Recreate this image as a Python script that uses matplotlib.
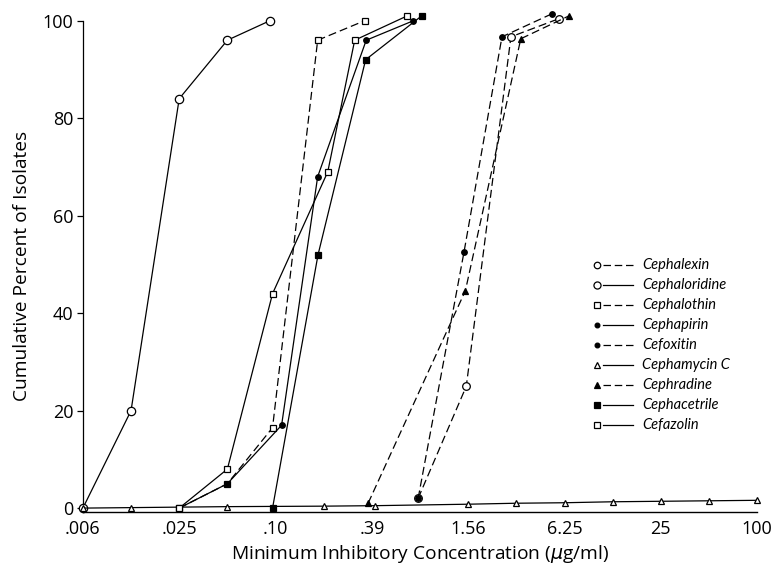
import matplotlib
matplotlib.use("Agg")
import matplotlib.pyplot as plt
from matplotlib.ticker import FixedLocator, NullLocator

plt.rcParams['font.family'] = ['Open Sans', 'DejaVu Sans']

# MIC values (ug/ml) and cumulative percent
names = ["Cephalexin", "Cephaloridine", "Cephalothin", "Cephapirin", "Cefoxitin",
         "Cephamycin C", "Cephradine", "Cephacetrile", "Cefazolin"]

cephalexin_x = [0.76, 1.52, 2.89, 5.75]
cephalexin_y = [2, 25, 96.7, 100.4]

cephaloridine_x = [0.0061, 0.0122, 0.0244, 0.0488, 0.09]
cephaloridine_y = [0, 20, 84, 96, 100]

cephalothin_x = [0.0244, 0.0488, 0.0935, 0.179, 0.352]
cephalothin_y = [0, 5, 16.5, 96, 100]

cephapirin_x = [0.0244, 0.0488, 0.1065, 0.179, 0.36, 0.71]
cephapirin_y = [0, 5, 17, 68, 96, 100]

cefoxitin_x = [0.76, 1.47, 2.54, 5.2]
cefoxitin_y = [2, 52.5, 96.7, 101.4]

cephamycin_x = [0.0061, 0.0122, 0.0488, 0.195, 0.41, 1.56, 3.12, 6.25, 12.5, 25, 50, 100]
cephamycin_y = [0, 0.1, 0.3, 0.4, 0.5, 0.8, 1.0, 1.1, 1.3, 1.4, 1.5, 1.6]

cephradine_x = [0.37, 1.50, 3.33, 6.67]
cephradine_y = [1, 44.6, 96.3, 101]

cephacetrile_x = [0.0935, 0.18, 0.357, 0.80]
cephacetrile_y = [0, 52, 92, 101]

cefazolin_x = [0.0244, 0.0488, 0.0935, 0.207, 0.305, 0.65]
cefazolin_y = [0, 8, 44, 69, 96, 101]

xs = [cephalexin_x, cephaloridine_x, cephalothin_x, cephapirin_x, cefoxitin_x,
      cephamycin_x, cephradine_x, cephacetrile_x, cefazolin_x]
ys = [cephalexin_y, cephaloridine_y, cephalothin_y, cephapirin_y, cefoxitin_y,
      cephamycin_y, cephradine_y, cephacetrile_y, cefazolin_y]

tick_vals = [100 / 2**14, 0.0244, 0.0977, 0.390625, 1.5625, 6.25, 25, 100]
tick_labels = [".006", ".025", ".10", ".39", "1.56", "6.25", "25", "100"]

# (marker, filled, dashed, markersize)
styles = [("o", False, True, 5.5), ("o", False, False, 6), ("s", False, True, 4.5),
          ("o", True, False, 4), ("o", True, True, 4), ("^", False, False, 5),
          ("^", True, True, 4.5), ("s", True, False, 4.5), ("s", False, False, 4.5)]

fig = plt.figure(figsize=(7.75, 5.66), dpi=100)
ax = fig.add_axes([0.107, 0.0954, 0.870, 0.868])

DASH = (6.4, 3.2)
for x, y, (m, filled, dashed, ms) in zip(xs, ys, styles):
    ln, = ax.plot(x, y, color="black", lw=0.9, marker=m, ms=ms,
                  mfc="black" if filled else "white", mec="black", mew=0.9,
                  clip_on=False, zorder=3)
    if dashed:
        ln.set_dashes(DASH)

ax.set_xscale("log", base=2)
ax.set_xlim(100 / 2**14, 100)
ax.set_ylim(-0.8, 100)
ax.xaxis.set_major_locator(FixedLocator(tick_vals))
ax.xaxis.set_minor_locator(NullLocator())
ax.set_xticklabels(tick_labels)
ax.set_yticks([0, 20, 40, 60, 80, 100])

for s in ["top", "right"]:
    ax.spines[s].set_visible(False)
ax.spines["left"].set_bounds(-0.8, 100)
ax.spines["left"].set_linewidth(0.9)
ax.spines["bottom"].set_linewidth(1.0)

ax.tick_params(axis="y", length=4, width=0.9, pad=3, labelsize=13)
ax.tick_params(axis="x", length=0, pad=6, labelsize=13)

ax.set_xlabel("Minimum Inhibitory Concentration ($\\mu$g/ml)", fontsize=13.8, labelpad=3)
ax.set_ylabel("Cumulative Percent of Isolates", fontsize=13.8, labelpad=8)

# hand-drawn legend, marker at the left end of the sample line
lx0, lx1, tx = 0.763, 0.816, 0.829
y0, dy = 0.503, 0.0407
for i, (name, (m, filled, dashed, ms)) in enumerate(zip(names, styles)):
    yy = y0 - i * dy
    seg, = ax.plot([lx0 + 0.008, lx1], [yy, yy], color="black", lw=0.9,
                   transform=ax.transAxes, clip_on=False)
    if dashed:
        seg.set_dashes((6, 3))
    ax.plot([lx0], [yy], marker=m, ms=ms * 0.85, color="black",
            mfc="black" if filled else "white", mec="black", mew=0.9,
            transform=ax.transAxes, clip_on=False)
    ax.text(tx, yy, name, transform=ax.transAxes, fontsize=10.5,
            family=["Lato", "DejaVu Sans"], style="italic", va="center", ha="left")

fig.savefig("out.png", dpi=100)
